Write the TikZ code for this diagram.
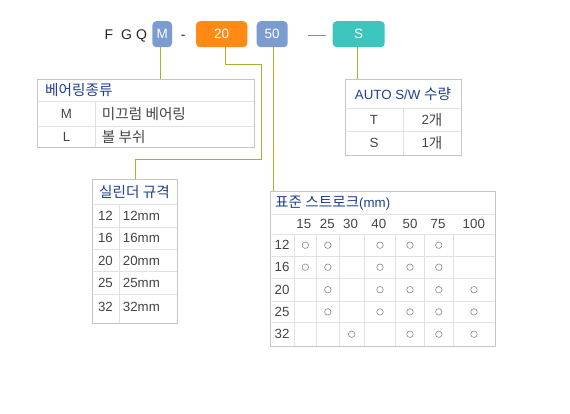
\documentclass[tikz,border=0pt]{standalone}
\usepackage{fontspec}
\setmainfont{Liberation Sans}
\newfontfamily\kr[Scale=1.1]{Noto Sans CJK KR}
\usetikzlibrary{positioning,calc}
\definecolor{tagblue}{HTML}{7B9CCF}
\definecolor{tagorange}{HTML}{FF8A14}
\definecolor{tagteal}{HTML}{3CC5BC}
\definecolor{lead}{HTML}{A4B42C}
\definecolor{hdr}{HTML}{1F3F8F}
\definecolor{body}{HTML}{444444}
\definecolor{frame}{HTML}{C4C4C4}
\definecolor{grid}{HTML}{E2E2E2}
\tikzset{
  tag/.style={rounded corners=4pt, text=white, minimum height=26pt, inner sep=0pt, font=\fontsize{13.5}{15}\selectfont},
  code/.style={text=black!85, inner sep=0pt, font=\fontsize{14}{16}\selectfont},
  tbl/.style={draw=frame, line width=1pt, inner sep=0pt, anchor=north west},
  cell/.style={draw=grid, line width=0.8pt},
  head/.style={text=hdr, inner sep=0pt, font=\fontsize{13.3}{15}\selectfont},
  val/.style={text=body, inner sep=0pt, font=\fontsize{13.3}{15}\selectfont},
  leadline/.style={draw=lead, line width=1pt},
  dot/.style={circle, draw=body!70, line width=0.55pt, inner sep=0pt, minimum size=6.5pt},
}

\begin{document}
\begin{tikzpicture}[x=1pt,y=-1pt]
  \useasboundingbox (0,0) rectangle (570,414);

  % order code
  \node[code, anchor=base] (fgq) at (125.8,40) {F\hspace{8pt}G\hspace{4pt}Q};
  \node[tag, fill=tagblue, minimum width=19.7pt] (tagM) at (162.2,34.2) {M};
  \node[code, anchor=base] (minus) at (183.3,40) {-};
  \node[tag, fill=tagorange, minimum width=51.3pt] (tag20) at (221.7,34.2) {20};
  \node[tag, fill=tagblue, minimum width=31pt] (tag50) at (272.2,34.2) {50};
  \node[inner sep=0pt, text=black!45] (dash) at (317,35) {\rule{18pt}{0.9pt}};
  \node[tag, fill=tagteal, minimum width=52pt] (tagS) at (358.7,34.2) {S};

  % tables (outer frames)
  \node[tbl, minimum width=217pt, minimum height=68pt] (bearing) at (37.3,79.3) {};
  \node[tbl, minimum width=85.6pt, minimum height=144pt] (cylinder) at (91.7,179.3) {};
  \node[tbl, minimum width=115.7pt, minimum height=75.7pt] (autosw) at (345,79.3) {};
  \node[tbl, minimum width=225pt, minimum height=154.7pt] (stroke) at (270,191) {};

  % leader lines
  \coordinate (k1) at (261,65);
  \coordinate (k2) at (261,160);
  \draw[leadline] ([xshift=-2pt]tagM.south) -- ([xshift=-2pt]tagM.south |- bearing.north);
  \draw[leadline] ([xshift=4pt]tag20.south) |- (k1) -- (k2) -| (cylinder.north);
  \draw[leadline] ([xshift=1pt]tag50.south) -- ([xshift=1pt]tag50.south |- stroke.north);
  \draw[leadline] ([xshift=-1.5pt]tagS.south) -- ([xshift=-1.5pt]tagS.south |- autosw.north);

  % bearing type
  \draw[cell] (37.3,101.7) -- (254.3,101.7) (37.3,126) -- (254.3,126) (95.7,101.7) -- (95.7,147.3);
  \node[head, anchor=west] (bearhd) at (45,90.5) {\kr 베어링종류};
  \node[val] (bearM) at (66.5,114) {M};
  \node[val, anchor=west] (bearMt) at (101.7,114) {\kr 미끄럼 베어링};
  \node[val] (bearL) at (66.5,136.6) {L};
  \node[val, anchor=west] (bearLt) at (101.7,136.6) {\kr 볼 부쉬};

  % cylinder size
  \foreach \y in {204,227.3,249.3,271.7,294}
    \draw[cell] (91.7,\y) -- (177.3,\y);
  \draw[cell] (119.3,204) -- (119.3,323.3);
  \node[head] (cylhd) at (134.5,191.7) {\kr 실린더 규격};
  \foreach \y/\v in {215.7/12, 238.3/16, 260.5/20, 282.8/25, 307.3/32} {
    \node[val] (cyl\v) at (105.5,\y) {\v};
    \node[val, anchor=west] (cyl\v mm) at (122.7,\y) {\v mm};
  }

  % auto switch
  \draw[cell] (345,108.3) -- (460.7,108.3) (345,131) -- (460.7,131) (403.3,108.3) -- (403.3,155);
  \node[head] (swhd) at (403,93.8) {AUTO S/W {\kr 수량}};
  \node[val] (swT) at (374,119.7) {T};
  \node[val] (swTn) at (432,119.7) {\raisebox{0.8pt}{2}{\kr 개}};
  \node[val] (swS) at (374,143) {S};
  \node[val] (swSn) at (432,143) {\raisebox{0.8pt}{1}{\kr 개}};

  % standard stroke
  \foreach \y in {214.3,234.3,256,278.3,301,322.7}
    \draw[cell] (270,\y) -- (495,\y);
  \foreach \x in {294,316.7,339,364.3,395.7,424.3,453.3}
    \draw[cell] (\x,234.3) -- (\x,345.7);
  \node[head, anchor=west] (strokehd) at (275,202.7) {{\kr 표준 스트로크}(mm)};
  \foreach \x/\s in {303.8/15, 327.3/25, 350.5/30, 378.8/40, 410/50, 438/75, 473.8/100}
    \node[val] (st\s) at (\x,224.3) {\s};
  \foreach \y/\d/\cols [count=\i] in {
      245.2/12/{305.3,327.8,380,410,438.8},
      267.2/16/{305.3,327.8,380,410,438.8},
      289.7/20/{327.8,380,410,438.8,474},
      311.9/25/{327.8,380,410,438.8,474},
      334.2/32/{351.7,410,438.8,474}} {
    \node[val] (row\d) at (282,\y) {\d};
    \foreach \x [count=\j] in \cols
      \node[dot] (dot-\i-\j) at (\x,\y) {};
  }
\end{tikzpicture}
\end{document}
